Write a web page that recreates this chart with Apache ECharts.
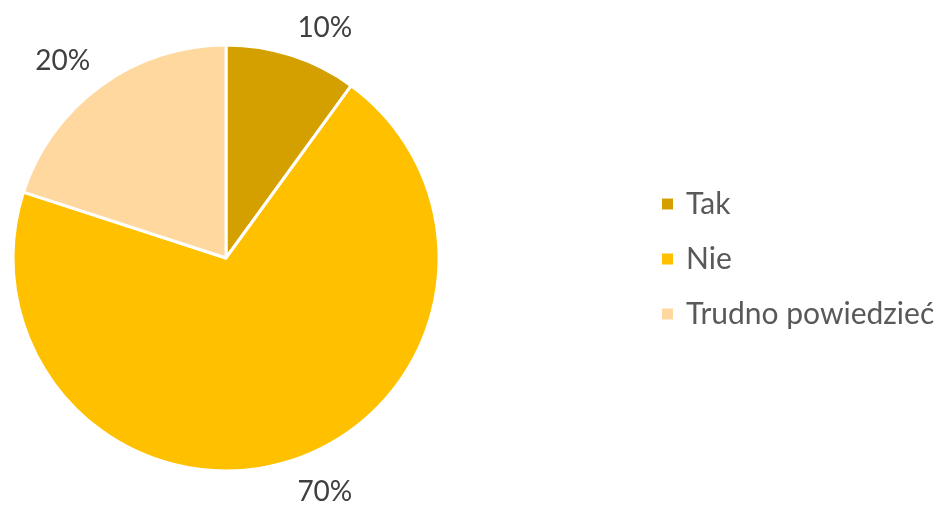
<!DOCTYPE html>
<html>
<head>
<meta charset="utf-8">
<script src="https://cdn.jsdelivr.net/npm/echarts@6/dist/echarts.min.js"></script>
<style>
  html, body { margin: 0; padding: 0; background: #fff; }
  #main { width: 936px; height: 507px; }
</style>
</head>
<body>
<div id="main"></div>
<script>
var categories = ['Tak', 'Nie', 'Trudno powiedzieć'];
var values = [10, 70, 20];
var colors = ['#D4A000', '#FFC000', '#FFD8A0'];

var myChart = echarts.init(document.getElementById('main'), null, {
  width: 936,
  height: 507,
});

var cx = 226, cy = 258, r = 213;
var total = values.reduce(function (a, b) { return a + b; }, 0);

// label corner sits a bit outside the slice, along the slice's middle angle
function labelPos(idx) {
  var before = 0;
  for (var i = 0; i < idx; i++) before += values[i];
  var mid = (before + values[idx] / 2) / total * Math.PI * 2;
  var dx = Math.sin(mid), dy = -Math.cos(mid);
  var d = r + 18;
  return {
    x: cx + dx * d,
    y: cy + dy * d + (dy < 0 ? 4 : 0),
    align: dx >= 0 ? 'left' : 'right',
    verticalAlign: dy < 0 ? 'bottom' : 'top',
  };
}

let option = {
  animation: false,
  legend: {
    orient: 'vertical',
    left: 655,
    top: 184,
    itemWidth: 13,
    itemHeight: 13,
    itemGap: 25,
    icon: 'rect',
    data: categories,
    textStyle: {
      color: '#595959',
      fontFamily: 'Lato',
      fontSize: 30,
      lineHeight: 30,
      padding: [0, 0, 0, 7],
    },
  },
  series: [
    {
      type: 'pie',
      center: [cx, cy],
      radius: r,
      startAngle: 90,
      clockwise: true,
      itemStyle: {
        borderColor: '#fff',
        borderWidth: 3,
      },
      label: {
        show: true,
        position: 'outside',
        formatter: '{d}%',
        color: '#404040',
        fontFamily: 'Lato',
        fontSize: 28,
        distanceToLabelLine: 0,
      },
      labelLine: {
        show: false,
        length: 10,
        length2: 0,
      },
      labelLayout: function (params) {
        return labelPos(params.dataIndex);
      },
      emphasis: { disabled: true },
      data: categories.map(function (name, i) {
        return { name: name, value: values[i], itemStyle: { color: colors[i] } };
      }),
    },
  ],
};

myChart.setOption(option);
</script>
</body>
</html>
